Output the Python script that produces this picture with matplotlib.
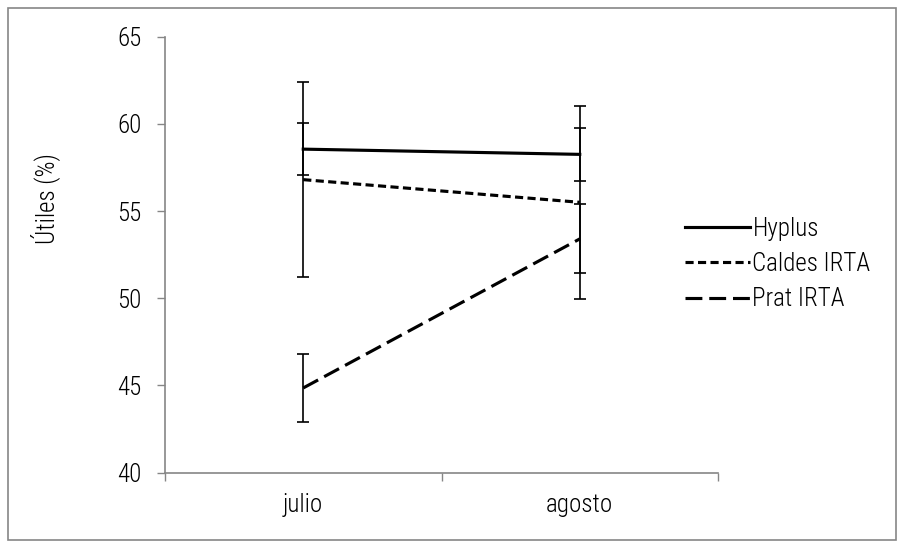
import matplotlib
matplotlib.use("Agg")
import matplotlib.pyplot as plt
from matplotlib.patches import Rectangle
from matplotlib import font_manager

names = {f.name for f in font_manager.fontManager.ttflist}
fam = [n for n in ["Liberation Sans Narrow", "Roboto Condensed", "Open Sans Condensed"] if n in names]
plt.rcParams['font.family'] = fam + ['Liberation Sans', 'DejaVu Sans']
plt.rcParams['font.weight'] = 'light'

categories = ["julio", "agosto"]
series_names = ["Hyplus", "Caldes IRTA", "Prat IRTA"]
hyplus = [58.55, 58.25]
hyplus_err = [1.5, 1.5]
caldes = [56.8, 55.5]
caldes_err = [5.6, 5.55]
prat = [44.85, 53.4]
prat_err = [1.95, 1.98]
yticks = [40, 45, 50, 55, 60, 65]

FS = 18

fig = plt.figure(figsize=(9, 5.42), dpi=100)
ax = fig.add_axes([165/900, 1-472.5/542, (718-165)/900, (472.5-36.7)/542])

xs = [0.5, 1.5]
lw = 2.25
styles = [
    dict(linestyle='-'),
    dict(linestyle=(0, (2.6, 1.4))),
    dict(linestyle=(0, (5.4, 2.2))),
]
data = [(hyplus, hyplus_err), (caldes, caldes_err), (prat, prat_err)]
for (vals, errs), st, name in zip(data, styles, series_names):
    ax.plot(xs, vals, color='black', lw=lw, label=name, **st)
    ax.errorbar(xs, vals, yerr=errs, fmt='none', ecolor='black',
                elinewidth=1.2, capsize=4.5, capthick=1.2)

ax.set_xlim(0, 2)
ax.set_ylim(40, 65)
ax.set_yticks(yticks)
ax.set_yticklabels([str(v) for v in yticks])
ax.set_xticks([0, 1, 2])
ax.set_xticklabels([])
ax.set_xticks(xs, minor=True)
ax.set_xticklabels(categories, minor=True)
ax.tick_params(axis='x', which='minor', length=0, pad=15, labelsize=FS)
ax.tick_params(axis='x', which='major', length=6, width=1, color='#868686', direction='out')
ax.tick_params(axis='y', length=6, width=1, color='#868686', direction='out', pad=11, labelsize=FS)

for s in ['top', 'right']:
    ax.spines[s].set_visible(False)
for s in ['left', 'bottom']:
    ax.spines[s].set_color('#868686')
    ax.spines[s].set_linewidth(1.2)

fig.text(45/900, 1-199/542, "Útiles (%)", fontsize=FS, rotation=90, ha='center', va='center')

leg = ax.legend(loc='center left', bbox_to_anchor=(662/900, 1-264/542),
                bbox_transform=fig.transFigure, frameon=False, fontsize=FS,
                handlelength=2.6, handletextpad=0.12, labelspacing=0.45)

fig.patches.append(Rectangle((8/900, 2/542), 888/900, 532/542, transform=fig.transFigure,
                             fill=False, edgecolor='#868686', lw=1.2))

fig.savefig("out.png", dpi=100)
